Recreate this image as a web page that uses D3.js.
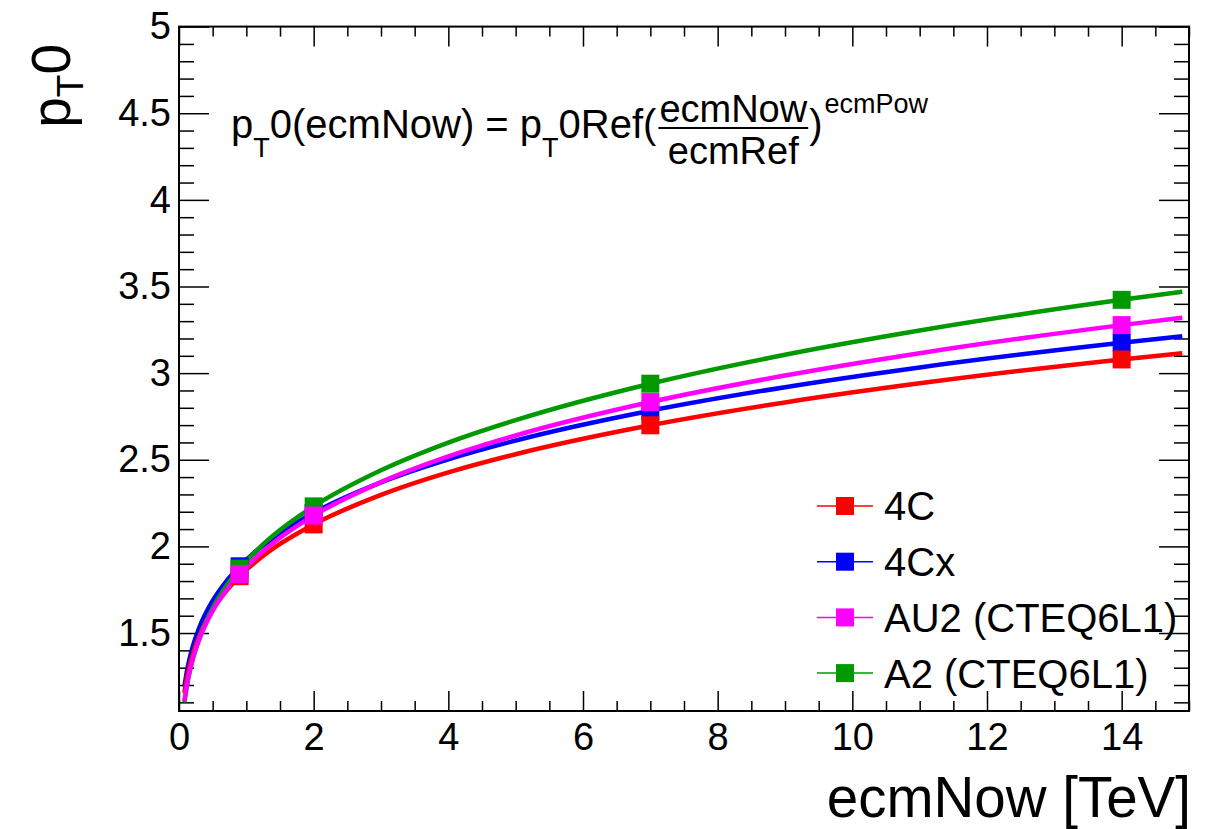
<!DOCTYPE html>
<html><head><meta charset="utf-8">
<script src="https://cdn.jsdelivr.net/npm/d3@7"></script>
<style>body{margin:0;background:#fff} text{font-family:"Liberation Sans",Arial,Helvetica,sans-serif;fill:#000}</style>
</head><body><svg id="c" width="1214" height="829"></svg>
<script>
// ---- data ----
const seriesNames = ["4C", "4Cx", "AU2 (CTEQ6L1)", "A2 (CTEQ6L1)"];
const seriesColors = ["#ff0000", "#0000ff", "#ff00ff", "#009900"];
const curveX = [0.08, 0.12, 0.2, 0.3, 0.5, 0.7, 0.9, 1.2, 1.5, 2, 3, 4, 5, 7, 9, 11, 14, 14.9];
const curve4C  = [1.154, 1.246, 1.373, 1.483, 1.635, 1.742, 1.828, 1.930, 2.014, 2.127, 2.297, 2.427, 2.532, 2.699, 2.831, 2.941, 3.079, 3.115];
const curve4Cx = [1.190, 1.285, 1.416, 1.530, 1.686, 1.797, 1.885, 1.990, 2.077, 2.193, 2.369, 2.502, 2.611, 2.783, 2.919, 3.033, 3.175, 3.213];
const curveAU2 = [1.108, 1.206, 1.343, 1.462, 1.628, 1.747, 1.841, 1.956, 2.050, 2.178, 2.371, 2.519, 2.640, 2.833, 2.986, 3.115, 3.277, 3.320];
const curveA2  = [1.099, 1.201, 1.344, 1.470, 1.645, 1.771, 1.872, 1.994, 2.094, 2.231, 2.439, 2.599, 2.729, 2.939, 3.106, 3.246, 3.423, 3.470];
const markerX = [0.9, 2, 7, 14];
const marker4C  = [1.828, 2.127, 2.699, 3.079];
const marker4Cx = [1.885, 2.193, 2.783, 3.175];
const markerAU2 = [1.841, 2.178, 2.833, 3.277];
const markerA2  = [1.872, 2.231, 2.939, 3.423];
const xTicks = [0, 2, 4, 6, 8, 10, 12, 14];
const yTicks = [1.5, 2, 2.5, 3, 3.5, 4, 4.5, 5];
const xTitle = "ecmNow [TeV]";

// ---- layout ----
const svg = d3.select("#c");
const L = 179, R = 1189, T = 26.6, B = 711;
const x = d3.scaleLinear().domain([0, 15]).range([L, R]);
const y = d3.scaleLinear().domain([1.05, 5]).range([B, T]);
const FS = 38;

const xMinor = d3.range(0, 15.001, 0.5).filter(v => Math.abs(v/2 - Math.round(v/2)) > 1e-6);
const yMinor = d3.range(1.1, 5.0001, 0.1).map(v => +v.toFixed(2)).filter(v => Math.abs(v*2 - Math.round(v*2)) > 1e-6);

function styleAxis(g){ g.select(".domain").remove(); g.selectAll("line").attr("stroke","#000").attr("stroke-width",1.5); g.selectAll("text").attr("font-size",FS).attr("font-family","Liberation Sans, Arial, sans-serif").attr("fill","#000"); }

// bottom
svg.append("g").attr("transform",`translate(0,${B})`)
  .call(d3.axisBottom(x).tickValues(xTicks).tickSize(-20).tickPadding(12).tickFormat(d => String(d))).call(styleAxis);
svg.append("g").attr("transform",`translate(0,${B})`)
  .call(d3.axisBottom(x).tickValues(xMinor).tickSize(-10).tickFormat("")).call(styleAxis);
// top
svg.append("g").attr("transform",`translate(0,${T})`)
  .call(d3.axisTop(x).tickValues(xTicks).tickSize(-20).tickFormat("")).call(styleAxis);
svg.append("g").attr("transform",`translate(0,${T})`)
  .call(d3.axisTop(x).tickValues(xMinor).tickSize(-10).tickFormat("")).call(styleAxis);
// left
svg.append("g").attr("transform",`translate(${L},0)`)
  .call(d3.axisLeft(y).tickValues(yTicks).tickSize(-30).tickPadding(8).tickFormat(d => String(d))).call(styleAxis);
svg.append("g").attr("transform",`translate(${L},0)`)
  .call(d3.axisLeft(y).tickValues(yMinor).tickSize(-15).tickFormat("")).call(styleAxis);
// right
svg.append("g").attr("transform",`translate(${R},0)`)
  .call(d3.axisRight(y).tickValues(yTicks).tickSize(-30).tickFormat("")).call(styleAxis);
svg.append("g").attr("transform",`translate(${R},0)`)
  .call(d3.axisRight(y).tickValues(yMinor).tickSize(-15).tickFormat("")).call(styleAxis);

// frame
svg.append("rect").attr("x",L).attr("y",T).attr("width",R-L).attr("height",B-T)
  .attr("fill","none").attr("stroke","#000").attr("stroke-width",2);

// ---- series ----
const curves = [curve4C, curve4Cx, curveAU2, curveA2];
const markers = [marker4C, marker4Cx, markerAU2, markerA2];
const drawOrder = [1, 0, 3, 2];
const line = d3.line().x(d => x(d[0])).y(d => y(d[1])).curve(d3.curveMonotoneX);
const MS = 18;
drawOrder.forEach(i => {
  const pts = curveX.map((cx, k) => [cx, curves[i][k]]);
  svg.append("path").attr("d", line(pts)).attr("fill","none").attr("stroke",seriesColors[i]).attr("stroke-width",4.5);
});
drawOrder.forEach(i => {
  svg.append("g").selectAll("rect").data(markerX.map((mx,k)=>[mx, markers[i][k]])).join("rect")
    .attr("x", d => x(d[0]) - MS/2).attr("y", d => y(d[1]) - MS/2)
    .attr("width", MS).attr("height", MS).attr("fill", seriesColors[i]);
});

// ---- legend ----
const lg = svg.append("g");
seriesNames.forEach((name, i) => {
  const ly = 506 + i*55.7;
  lg.append("line").attr("x1",817).attr("x2",873).attr("y1",ly).attr("y2",ly).attr("stroke",seriesColors[i]).attr("stroke-width",1.5);
  lg.append("rect").attr("x",845-MS/2).attr("y",ly-MS/2).attr("width",MS).attr("height",MS).attr("fill",seriesColors[i]);
  lg.append("text").attr("x",884).attr("y",ly).attr("dy","0.36em").attr("font-size",40).text(name);
});

// ---- axis titles ----
svg.append("text").attr("x",1191).attr("y",817).attr("text-anchor","end").attr("font-size",56.5).text(xTitle);
const yt = svg.append("text").attr("transform","translate(70,44) rotate(-90)").attr("text-anchor","end").attr("font-size",55);
yt.append("tspan").text("p");
yt.append("tspan").attr("font-size",37).attr("dy",13).text("T");
yt.append("tspan").attr("dy",-13).text("0");

// ---- equation ----
const eq = svg.append("g");
const base = 138, S = 27, FE = 40, FF = 38;
function piece(str, size, yy, xx){ const t = eq.append("text").attr("x",xx).attr("y",yy).attr("font-size",size).text(str); return t.node().getComputedTextLength(); }
let cx = 231;
cx += piece("p", FE, base, cx);
cx += piece("T", S, base+19, cx);
cx += piece("0(ecmNow) = p", FE, base, cx);
cx += piece("T", S, base+19, cx);
cx += piece("0Ref(", FE, base, cx);
cx += 2;
const tmpN = eq.append("text").attr("font-size",FF).text("ecmNow"); const nw = tmpN.node().getComputedTextLength(); tmpN.remove();
const tmpD = eq.append("text").attr("font-size",FF).text("ecmRef"); const dw = tmpD.node().getComputedTextLength(); tmpD.remove();
const W = Math.max(nw, dw) + 2;
eq.append("text").attr("x",cx+W/2).attr("y",122).attr("text-anchor","middle").attr("font-size",FF).text("ecmNow");
eq.append("text").attr("x",cx+W/2).attr("y",164).attr("text-anchor","middle").attr("font-size",FF).text("ecmRef");
eq.append("line").attr("x1",cx).attr("x2",cx+W).attr("y1",128).attr("y2",128).attr("stroke","#000").attr("stroke-width",2);
cx += W + 1;
cx += piece(")", FE, base, cx);
piece("ecmPow", S, 113, cx + 2);
</script></body></html>
